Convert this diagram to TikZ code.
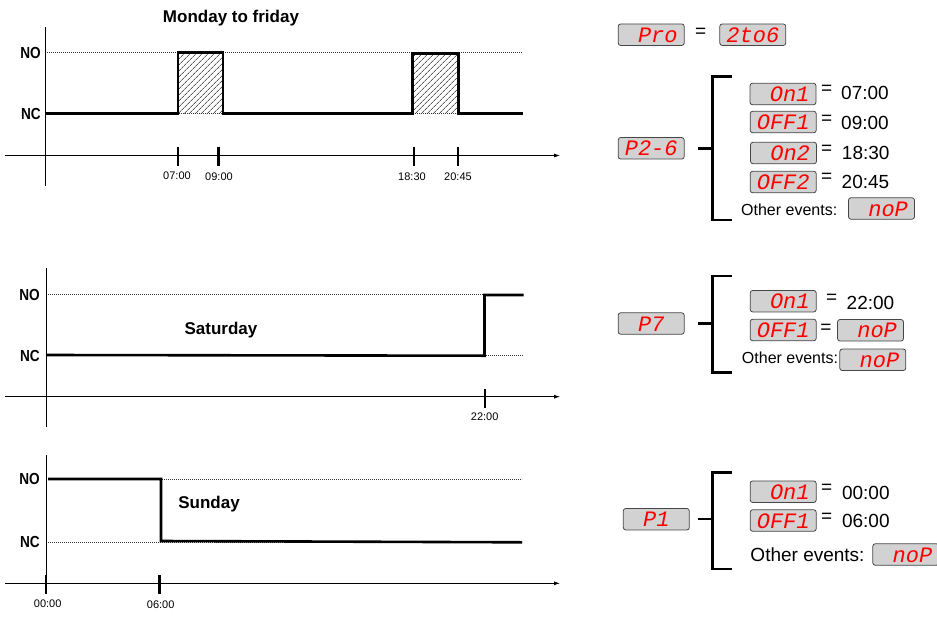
\documentclass[tikz,border=0pt]{standalone}
\usepackage{fontspec}
\usepackage{graphicx}
\setmainfont{Liberation Sans}
\newfontfamily\segfont{Liberation Mono}
\usetikzlibrary{arrows.meta,patterns.meta}

\newcommand{\vazio}{\phantom{0}}
\newcommand{\estreito}[1]{\scalebox{0.85}[1]{#1}}

\tikzset{
  eixo/.style={line width=0.8pt},
  eixoseta/.style={line width=0.8pt,-{Latex[length=6pt,width=4pt]}},
  nivel/.style={line width=0.6pt, dash pattern=on 0.8pt off 1.2pt, black!80},
  sinal/.style={line width=2.6pt, line join=miter},
  hachura/.style={pattern={Lines[angle=45,distance=4pt,line width=0.5pt]}},
  marca/.style={line width=2.4pt},
  hora/.style={font=\fontsize{11}{11}\selectfont, inner sep=0pt},
  estado/.style={font=\bfseries\fontsize{16}{16}\selectfont, anchor=east, inner sep=0pt},
  dia/.style={font=\bfseries\fontsize{17}{17}\selectfont, inner sep=0pt},
  visor/.style={draw=gray!55!black, fill=gray!35, rounded corners=2.5pt, line width=0.8pt,
    minimum width=66pt, minimum height=21.5pt, inner sep=0pt, text=red,
    font=\segfont\itshape\fontsize{22}{22}\selectfont, text height=15pt, text depth=0pt},
  valor/.style={font=\fontsize{19}{19}\selectfont, inner sep=0pt},
  evento/.style={font=\fontsize{16}{16}\selectfont, inner sep=0pt},
  chave/.style={line width=2.5pt},
}

\begin{document}
\begin{tikzpicture}[x=1pt,y=-1pt]
    \useasboundingbox (0,0) rectangle (937,616);

    % ---------------- Segunda a sexta ----------------
    \node[dia] (titseg) at (231,18) {Monday to friday};
    \fill[hachura] (178,52.5) rectangle (223,113.5);
    \fill[hachura] (412.5,53.5) rectangle (458.5,113.5);
    \draw[nivel] (45.3,52.5) -- (523,52.5);  % nivel NO
    \draw[nivel] (45.3,113.5) -- (523,113.5); % nivel NC
    \draw[eixo] (45.3,27) -- (45.3,186);
    \draw[eixoseta] (4.5,155.5) -- (560,155.5);
    \draw[sinal] (45.3,113.5) -- (178,113.5) -- (178,52.5) -- (223,52.5) -- (223,113.5)
        -- (412.5,113.5) -- (412.5,53.5) -- (458.5,53.5) -- (458.5,113.5) -- (523,113.5);
    \draw[marca] (177.7,146.5) -- (177.7,166);
    \draw[marca] (218.6,146.5) -- (218.6,166);
    \draw[marca] (413.7,146.5) -- (413.7,166);
    \draw[marca] (458,146.5) -- (458,166);
    \node[estado] (no1) at (41,52.5) {\estreito{NO}};
    \node[estado] (nc1) at (41,113.5) {\estreito{NC}};
    \node[hora] (h0700) at (177,176) {07:00};
    \node[hora] (h0900) at (219,176.5) {09:00};
    \node[hora] (h1830) at (412,176.5) {18:30};
    \node[hora] (h2045) at (458,176.5) {20:45};

    % ---------------- Sabado ----------------
    \node[dia] (titsab) at (221,330) {Saturday};
    \draw[nivel] (46,294.5) -- (523,294.5);
    \draw[nivel] (46,355.7) -- (523,355.7);
    \draw[eixo] (46,268) -- (46,427);
    \draw[eixoseta] (5,396.7) -- (560,396.7);
    \draw[sinal] (46,355) -- (484.5,355.7) -- (484.5,295) -- (523.5,295);
    \draw[marca] (484.7,388.5) -- (484.7,408);
    \node[estado] (no2) at (40,294.5) {\estreito{NO}};
    \node[estado] (nc2) at (40,355.7) {\estreito{NC}};
    \node[hora] (h2200) at (484.7,417) {22:00};

    % ---------------- Domingo ----------------
    \node[dia] (titdom) at (209,504) {Sunday};
    \draw[nivel] (46,479.3) -- (522,479.3);
    \draw[nivel] (46,542) -- (522,542);
    \draw[eixo] (46,455) -- (46,583);
    \draw[eixoseta] (5,583.3) -- (560,583.3);
    \draw[sinal] (48,479) -- (161,479) -- (161,541) -- (522,542.3);
    \draw[marca] (46,575) -- (46,594);
    \draw[marca] (159.3,575) -- (159.3,594);
    \node[estado] (no3) at (40,479.3) {\estreito{NO}};
    \node[estado] (nc3) at (40,542) {\estreito{NC}};
    \node[hora] (h0000) at (47.7,604) {00:00};
    \node[hora] (h0600) at (160.7,605) {06:00};

    % ---------------- Visores: programa ----------------
    \node[visor] (pro) at (651.2,34.7) {\vazio Pro};
    \node[valor] (igpro) at (700.7,33.3) {=};
    \node[visor] (prog) at (752.8,34.7) {2to6};

    % P2-6
    \node[visor] (p26) at (651.2,148.3) {P2-6};
    \coordinate (ch1) at (712.3,148);
    \draw[chave] ([xshift=13.7pt]p26.east) -- (p26.east -| ch1);
    \draw[chave] (731.7,76.7) -- (712.3,76.7) -- (712.3,220) -- (731.7,220);
    \node[visor] (on1a) at (783,94) {\vazio On1};
    \node[valor] (ig1a) at (826.7,90) {=};
    \node[valor] (v1a) at (865,93.3) {07:00};
    \node[visor] (off1a) at (783.2,122) {OFF1};
    \node[valor] (ig2a) at (826.7,120) {=};
    \node[valor] (v2a) at (865,122.7) {09:00};
    \node[visor] (on2a) at (783.5,153) {\vazio On2};
    \node[valor] (ig3a) at (826.7,150) {=};
    \node[valor] (v3a) at (865.7,153.3) {18:30};
    \node[visor] (off2a) at (783.2,182) {OFF2};
    \node[valor] (ig4a) at (826.7,178.3) {=};
    \node[valor] (v4a) at (865.5,182) {20:45};
    \node[evento] (outa) at (789.2,210) {Other events:};
    \node[visor] (nopa) at (881.5,208.5) {\vazio noP};

    % P7
    \node[visor] (p7) at (651.2,323.5) {\vazio P7\vazio};
    \coordinate (ch2) at (712.3,323.3);
    \draw[chave] ([xshift=13.7pt]p7.east) -- (p7.east -| ch2);
    \draw[chave] (731.7,276) -- (712.3,276) -- (712.3,372.3) -- (731.7,372.3);
    \node[visor] (on1b) at (783.2,301.2) {\vazio On1};
    \node[valor] (ig1b) at (831.7,299.3) {=};
    \node[valor] (v1b) at (870.5,302.7) {22:00};
    \node[visor] (off1b) at (783.2,330) {OFF1};
    \node[valor] (ig2b) at (826,329.3) {=};
    \node[visor] (nopb) at (870.5,330.3) {\vazio noP};
    \node[evento] (outb) at (790,357.3) {Other events:};
    \node[visor] (nopc) at (872.8,359.8) {\vazio noP};

    % P1
    \node[visor] (p1) at (656.3,519.2) {\vazio P1\vazio};
    \coordinate (ch3) at (712.3,519);
    \draw[chave] ([xshift=8.7pt]p1.east) -- (p1.east -| ch3);
    \draw[chave] (731.7,472.3) -- (712.3,472.3) -- (712.3,569) -- (731.7,569);
    \node[visor] (on1c) at (783.2,491.7) {\vazio On1};
    \node[valor] (ig1c) at (826.7,489) {=};
    \node[valor] (v1c) at (865.8,493.3) {00:00};
    \node[visor] (off1c) at (783.2,520.5) {OFF1};
    \node[valor] (ig2c) at (826.7,517.7) {=};
    \node[valor] (v2c) at (865.8,521) {06:00};
    \node[evento, font=\fontsize{19}{19}\selectfont] (outc) at (807.5,554.3) {Other events:};
    \node[visor] (nopd) at (905.8,554.5) {\vazio noP};
\end{tikzpicture}
\end{document}
